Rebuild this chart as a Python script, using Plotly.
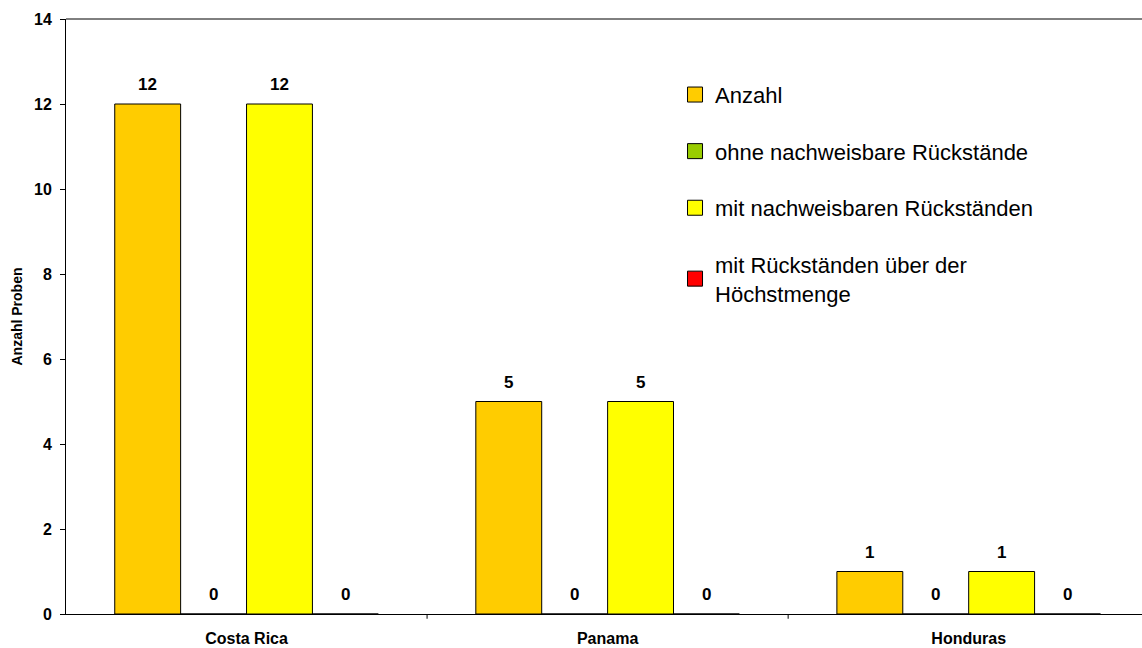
import plotly.graph_objects as go

# Herkunftsländer und Probenzahlen je Kategorie
laender = ["Costa Rica", "Panama", "Honduras"]
anzahl = [12, 5, 1]
ohne_rueckstaende = [0, 0, 0]
mit_rueckstaenden = [12, 5, 1]
ueber_hoechstmenge = [0, 0, 0]

serien = [
    ("Anzahl", anzahl, "#FFCC00"),
    ("ohne nachweisbare Rückstände", ohne_rueckstaende, "#99CC00"),
    ("mit nachweisbaren Rückständen", mit_rueckstaenden, "#FFFF00"),
    ("mit Rückständen über der<br>Höchstmenge", ueber_hoechstmenge, "#FF0000"),
]

BARGAP = 0.27
FONT = "Liberation Sans, Arial, sans-serif"

fig = go.Figure()
n = len(serien)
breite = (1 - BARGAP) / n
annotations = []
for j, (name, werte, farbe) in enumerate(serien):
    fig.add_trace(go.Bar(
        x=laender, y=werte, name=name, showlegend=False,
        marker=dict(color=farbe, line=dict(color="black", width=1)),
    ))
    # Legendeneintrag mit quadratischem Symbol
    fig.add_trace(go.Scatter(
        x=[None], y=[None], mode="markers", name=name,
        marker=dict(symbol="square", size=15, color=farbe, line=dict(color="black", width=1)),
        legendgroup=f"g{j}",
    ))
    # Wertbeschriftung über jedem Balken
    for i, v in enumerate(werte):
        annotations.append(dict(
            x=i + (j - (n - 1) / 2) * breite, y=v, xref="x", yref="y",
            text=f"<b>{v}</b>", showarrow=False, yanchor="bottom",
            yshift=8, font=dict(family=FONT, size=17, color="black"),
        ))

fig.update_layout(
    width=1142, height=648,
    margin=dict(l=66, r=0, t=19, b=34, autoexpand=False),
    paper_bgcolor="white", plot_bgcolor="white",
    barmode="group", bargap=BARGAP, bargroupgap=0,
    font=dict(family=FONT, color="black"),
    showlegend=True,
    annotations=annotations,
    legend=dict(
        x=0.566, y=0.908, xanchor="left", yanchor="top",
        font=dict(size=22, color="black"),
        traceorder="grouped", tracegroupgap=25,
        bgcolor="rgba(0,0,0,0)", itemwidth=30,
    ),
    xaxis=dict(
        range=[-0.5, 2.48], showline=True, linecolor="black", linewidth=1,
        ticks="", showgrid=False, ticklabelstandoff=10, automargin=False,
        tickfont=dict(size=16, weight="bold"),
    ),
    yaxis=dict(
        range=[0, 14], dtick=2, showline=True, linecolor="black", linewidth=1,
        ticks="outside", ticklen=5, tickcolor="black", showgrid=False, automargin=False,
        zeroline=False, tickfont=dict(size=16, weight="bold"), ticklabelstandoff=5,
        title=dict(text="Anzahl Proben", font=dict(size=14, weight="bold"), standoff=8),
    ),
)

# Obere Begrenzung des Diagrammbereichs und Kategorie-Trennstriche
fig.add_shape(type="line", xref="paper", yref="paper", x0=0, x1=1, y0=1, y1=1,
              line=dict(color="black", width=1))
for xpos in [0.5, 1.5]:
    fig.add_shape(type="line", xref="x", yref="paper", x0=xpos, x1=xpos, y0=0, y1=-0.008,
                  line=dict(color="black", width=1))

fig.write_html("out.html")
